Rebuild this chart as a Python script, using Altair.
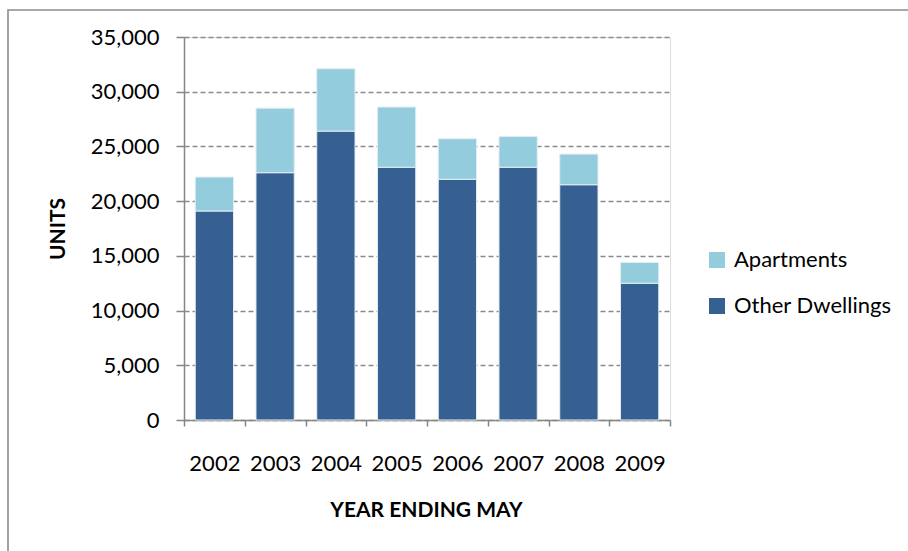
import altair as alt
import pandas as pd

# Completed dwelling units by year ending May
years = ["2002", "2003", "2004", "2005", "2006", "2007", "2008", "2009"]
other_dwellings = [19100, 22600, 26400, 23100, 22000, 23100, 21500, 12500]
apartments = [3100, 5900, 5700, 5500, 3700, 2800, 2800, 1900]

series_names = ["Apartments", "Other Dwellings"]
series_colors = ["#93CDDD", "#366092"]

rows = []
for yr, o, a in zip(years, other_dwellings, apartments):
    rows.append({"year": yr, "series": "Other Dwellings", "value": o, "rank": 0})
    rows.append({"year": yr, "series": "Apartments", "value": a, "rank": 1})
df = pd.DataFrame(rows)

W, H = 486, 383
PAD_L, PAD_T = 184, 37
FONT = "Lato"
AXIS_GREY = "#868686"

# outer frame around the whole figure
frame = alt.Chart(pd.DataFrame({"k": [0]})).mark_rect(
    fillOpacity=0, stroke="#8c8c8c", strokeWidth=1.6
).encode(
    x=alt.value(8 - PAD_L),
    x2=alt.value(908 - PAD_L + 20),
    y=alt.value(10 - PAD_T),
    y2=alt.value(551 - PAD_T + 20),
)

bars = alt.Chart(df).mark_bar(
    width=alt.RelativeBandSize(0.63), stroke="#e4ecf3", strokeWidth=1
).encode(
    x=alt.X(
        "year:N",
        sort=years,
        scale=alt.Scale(paddingInner=0, paddingOuter=0),
        axis=alt.Axis(
            title="YEAR ENDING MAY",
            labelAngle=0,
            tickBand="extent",
            tickSize=6,
            tickColor=AXIS_GREY,
            tickWidth=1.5,
            domainColor=AXIS_GREY,
            domainWidth=1.5,
            labelFont=FONT,
            labelFontSize=22,
            labelColor="#000000",
            labelPadding=27,
            labelBaseline="top",
            titleFont=FONT,
            titleFontSize=21,
            titleFontWeight="bold",
            titleColor="#000000",
            titleX=242,
            titleY=90,
            titleBaseline="middle",
            titleAlign="center",
        ),
    ),
    y=alt.Y(
        "value:Q",
        stack="zero",
        scale=alt.Scale(domain=[0, 35000], nice=False),
        axis=alt.Axis(
            title="UNITS",
            values=list(range(0, 35001, 5000)),
            format=",d",
            tickSize=8,
            tickColor=AXIS_GREY,
            tickWidth=1.5,
            domainColor=AXIS_GREY,
            domainWidth=1.5,
            grid=True,
            gridColor="#8a8a8a",
            gridDash=[5, 3],
            gridWidth=1.4,
            labelFont=FONT,
            labelFontSize=22,
            labelColor="#000000",
            labelPadding=17,
            titleFont=FONT,
            titleFontSize=21,
            titleFontWeight="bold",
            titleColor="#000000",
            titleAngle=-90,
            titleX=58 - PAD_L,
            titleY=H / 2,
            titleAlign="center",
            titleBaseline="middle",
        ),
    ),
    color=alt.Color(
        "series:N",
        scale=alt.Scale(domain=series_names, range=series_colors),
        legend=alt.Legend(
            title=None,
            orient="none",
            legendX=706 - PAD_L,
            legendY=212,
            symbolType="square",
            symbolSize=256,
            symbolStrokeWidth=0,
            symbolOpacity=1,
            labelFont=FONT,
            labelFontSize=22,
            labelColor="#000000",
            labelOffset=6,
            rowPadding=24,
        ),
    ),
    order=alt.Order("rank:Q"),
)

chart = alt.layer(frame, bars).properties(
    width=W,
    height=H,
    autosize=alt.AutoSizeParams(type="none"),
    padding={"left": PAD_L, "top": PAD_T, "right": 908 - PAD_L - W, "bottom": 551 - PAD_T - H},
    background="#ffffff",
).configure_view(stroke=None).configure(font=FONT)

chart.save("out.html", embed_options={"renderer": "svg", "actions": False})
